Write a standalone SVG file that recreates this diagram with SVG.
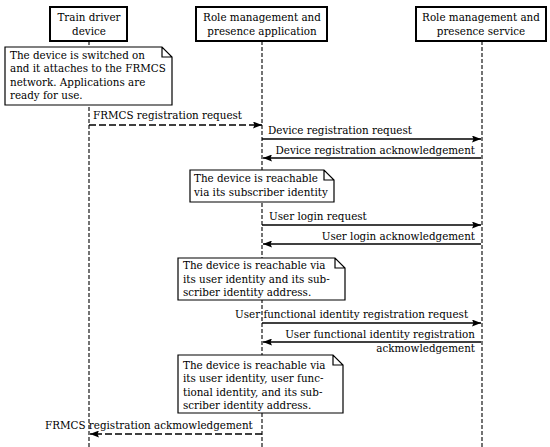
<svg xmlns="http://www.w3.org/2000/svg" width="550" height="447" viewBox="0 0 550 447">
<defs>
<style>
text{font-family:"DejaVu Serif",serif;font-size:10.35px;fill:#000}
.mid{text-anchor:middle}
.end{text-anchor:end}
.box{fill:#fff;stroke:#000;stroke-width:2}
.note{fill:#fff;stroke:#000;stroke-width:1.2}
.life{stroke:#000;stroke-width:1.1;stroke-dasharray:4,2;fill:none}
.msg{stroke:#000;stroke-width:1.3;fill:none}
.dash{stroke-dasharray:7,3}
</style>
<marker id="ah" markerWidth="9" markerHeight="7" refX="9" refY="3.5" orient="auto" markerUnits="userSpaceOnUse">
<path d="M0,0 L9,3.5 L0,7 L1.5,3.5 Z" fill="#000"/>
</marker>
</defs>
<rect width="550" height="447" fill="#fff"/>
<g id="lifelines">
<line class="life" x1="89" y1="41" x2="89" y2="447"/>
<line class="life" x1="262" y1="41" x2="262" y2="447"/>
<line class="life" x1="482" y1="41" x2="482" y2="447"/>
</g>
<g id="train-driver-device">
<rect class="box" x="50" y="7" width="77" height="34"/>
<text class="mid" x="89" y="21">Train driver</text>
<text class="mid" x="89" y="35">device</text>
</g>
<g id="rmp-application">
<rect class="box" x="196" y="7" width="131" height="34"/>
<text class="mid" x="262" y="21">Role management and</text>
<text class="mid" x="262" y="35">presence application</text>
</g>
<g id="rmp-service">
<rect class="box" x="416" y="7" width="130" height="34"/>
<text class="mid" x="481" y="21">Role management and</text>
<text class="mid" x="481" y="35">presence service</text>
</g>
<g id="connectors">
<line class="msg dash" x1="89" y1="125" x2="262" y2="125" marker-end="url(#ah)"/>
<text x="93" y="119">FRMCS registration request</text>
<line class="msg" x1="262" y1="139" x2="481" y2="139" marker-end="url(#ah)"/>
<text x="268" y="134">Device registration request</text>
<line class="msg" x1="481" y1="158" x2="263" y2="158" marker-end="url(#ah)"/>
<text class="end" x="475" y="154">Device registration acknowledgement</text>
<line class="msg" x1="262" y1="225" x2="481" y2="225" marker-end="url(#ah)"/>
<text x="269" y="220">User login request</text>
<line class="msg" x1="481" y1="244" x2="263" y2="244" marker-end="url(#ah)"/>
<text class="end" x="475" y="240">User login acknowledgement</text>
<line class="msg" x1="262" y1="323" x2="481" y2="323" marker-end="url(#ah)"/>
<text x="235" y="318">User functional identity registration request</text>
<line class="msg" x1="481" y1="342" x2="263" y2="342" marker-end="url(#ah)"/>
<text class="end" x="475" y="338">User functional identity registration</text>
<text class="end" x="475" y="352">ackmowledgement</text>
<line class="msg dash" x1="262" y1="434" x2="90" y2="434" marker-end="url(#ah)"/>
<text x="45" y="429">FRMCS registration ackmowledgement</text>
</g>
<g id="note-switched-on">
<path class="note" d="M5,47 H162 L172,57 V105 H5 Z M162,47 V57 H172"/>
<text x="10" y="59">The device  is switched on</text>
<text x="10" y="72">and it attaches to the FRMCS</text>
<text x="10" y="86">network. Applications are</text>
<text x="10" y="99">ready for use.</text>
</g>
<g id="note-subscriber">
<path class="note" d="M190,170 H324 L334,180 V202 H190 Z M324,170 V180 H334"/>
<text x="194" y="182">The device is reachable</text>
<text x="194" y="196">via its subscriber identity</text>
</g>
<g id="note-user-identity">
<path class="note" d="M178,258 H335 L345,268 V300 H178 Z M335,258 V268 H345"/>
<text x="183" y="269">The device is reachable via</text>
<text x="183" y="283">its user identity and its sub-</text>
<text x="183" y="296">scriber identity address.</text>
</g>
<g id="note-functional-identity">
<path class="note" d="M178,355 H333 L343,365 V413 H178 Z M333,355 V365 H343"/>
<text x="183" y="369">The device is reachable via</text>
<text x="183" y="382">its user identity, user func-</text>
<text x="183" y="396">tional identity, and its sub-</text>
<text x="183" y="409">scriber identity address.</text>
</g>
</svg>
